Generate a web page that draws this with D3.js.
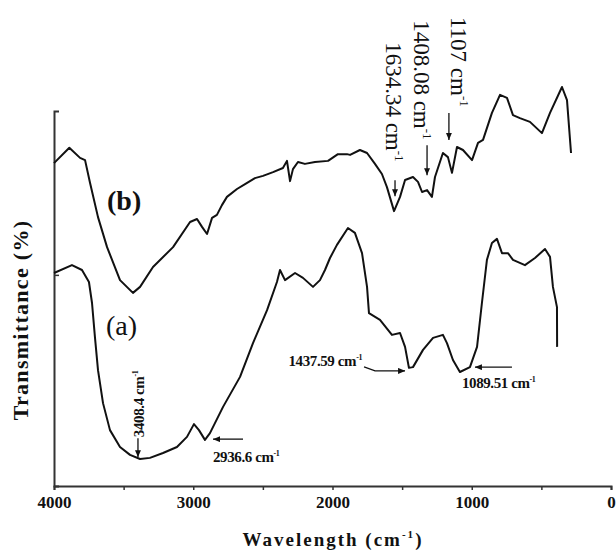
<!DOCTYPE html>
<html>
<head>
<meta charset="utf-8">
<script src="https://cdn.jsdelivr.net/npm/d3@7"></script>
<style>
  body { margin: 0; background: #fff; }
  svg { display: block; background: #fff; }
  text { font-family: "Liberation Serif", "Times New Roman", serif; fill: #111; }
</style>
</head>
<body>
<svg id="chart" width="616" height="554"></svg>
<script>
// spectrum (b) - wavenumber (cm-1) vs transmittance (arbitrary units)
var waveB = [4000, 3890, 3813, 3777, 3741, 3684, 3619, 3526, 3433, 3382, 3289, 3145, 3023, 2973,
             2937, 2901, 2865, 2830, 2794, 2758, 2686, 2628, 2557, 2499, 2427, 2356, 2327, 2305,
             2284, 2248, 2198, 2126, 2032, 1961, 1896, 1874, 1803, 1752, 1695, 1645, 1609, 1558,
             1515, 1479, 1422, 1386, 1357, 1321, 1286, 1264, 1207, 1171, 1142, 1106, 1063, 998,
             955, 919, 855, 797, 747, 704, 654, 582, 496, 438, 352, 316, 287];
var transB = [86.1, 90.2, 87.5, 86.9, 80.8, 71.7, 63.7, 54.9, 51.5, 53.1, 58.4, 63.7, 70.4, 71.2,
              69.1, 67.2, 71.5, 72.3, 74.9, 77.1, 79.2, 80.5, 82.1, 82.7, 83.7, 84.8, 86.7, 81.3,
              84.5, 86.4, 85.9, 86.4, 86.7, 88.5, 88.5, 88.3, 89.6, 88.8, 85.9, 83.2, 79.7, 73.3,
              77.1, 81.6, 82.4, 81.1, 78.4, 78.9, 77.1, 82.4, 88.8, 87.7, 83.5, 90.4, 89.6, 86.9,
              91.5, 92.3, 99.5, 104.3, 103.5, 98.9, 98.1, 97.1, 94.1, 99.5, 106.4, 102.9, 88.8];

// spectrum (a)
var waveA = [4000, 3871, 3799, 3749, 3727, 3706, 3684, 3648, 3598, 3526, 3454, 3382, 3311, 3217,
             3117, 3045, 2995, 2959, 2916, 2880, 2786, 2664, 2571, 2470, 2399, 2377, 2341, 2269,
             2212, 2140, 2090, 2054, 2018, 1968, 1889, 1839, 1788, 1752, 1738, 1659, 1573, 1515,
             1479, 1451, 1422, 1350, 1278, 1207, 1178, 1135, 1085, 1013, 962, 927, 891, 855, 819,
             783, 740, 704, 618, 546, 474, 438, 417, 388, 387];
var transA = [56.8, 58.9, 57.6, 54.4, 48.8, 39.7, 30.9, 22.1, 14.9, 10.4, 8.3, 7.2, 7.5, 8.8,
              10.4, 13.1, 16.5, 14.9, 12.3, 14.1, 21.1, 29.1, 38.1, 46.9, 54.4, 57.6, 54.9, 56.8,
              55.5, 53.1, 54.9, 57.6, 60.8, 64.3, 68.8, 67.5, 62.1, 53.1, 46.1, 44.3, 40.3, 40.8,
              37.1, 31.5, 31.7, 36.3, 39.5, 40.3, 38.1, 33.6, 30.4, 31.7, 37.1, 48.8, 60.3, 64.8,
              65.9, 62.1, 62.1, 60.3, 58.9, 60.8, 63.2, 61.1, 53.1, 47.7, 37.1];

var tickWaves = [4000, 3500, 3000, 2500, 2000, 1500, 1000, 500, 0];
var tickLabels = ["4000", "", "3000", "", "2000", "", "1000", "", "0"];

// marked peaks
var peakLabels = ["1634.34", "1408.08", "1107", "3408.4", "2936.6", "1437.59", "1089.51"];
var peakWaves  = [1551, 1321, 1164, 3397, 2858, 1479, 977];
var peakTrans  = [77.3, 82.9, 92.3, 7.7, 12.5, 30.7, 31.7];

var svg = d3.select("#chart");

var x = d3.scaleLinear().domain([4000, 0]).range([54, 611]);
var y = d3.scaleLinear().domain([0, 100]).range([486, 111]);

// arrow head
svg.append("defs").append("marker")
    .attr("id", "head")
    .attr("markerUnits", "userSpaceOnUse")
    .attr("markerWidth", 7).attr("markerHeight", 6)
    .attr("refX", 7).attr("refY", 3)
    .attr("orient", "auto")
  .append("path")
    .attr("d", "M0,0 L7,3 L0,6 Z")
    .attr("fill", "#111");

// axes
var xAxis = d3.axisBottom(x)
    .tickValues(tickWaves)
    .tickSize(4)
    .tickPadding(6)
    .tickFormat(function(d, i) { return tickLabels[i]; });

var gx = svg.append("g").attr("transform", "translate(0," + y(0) + ")").call(xAxis);
gx.select(".domain").attr("stroke", "#333").attr("stroke-width", 2);
gx.selectAll(".tick line").attr("stroke", "#333").attr("stroke-width", 1.5);
gx.selectAll(".tick text")
    .style("font-family", "'Liberation Serif', serif")
    .style("font-size", "17px")
    .style("font-weight", "bold")
    .attr("fill", "#111");

var gy = svg.append("g").attr("transform", "translate(" + x(4000) + ",0)")
    .call(d3.axisLeft(y).tickValues([56.3]).tickSize(-5).tickFormat(""));
gy.select(".domain").attr("stroke", "#333").attr("stroke-width", 2);
gy.selectAll(".tick line").attr("stroke", "#333").attr("stroke-width", 1.5);

// axis titles
var xt = svg.append("text")
    .attr("x", 333).attr("y", 546)
    .attr("text-anchor", "middle")
    .style("font-size", "19px").style("font-weight", "bold")
    .style("letter-spacing", "2px")
    .text("Wavelength (cm");
xt.append("tspan").attr("dy", -8).style("font-size", "11px").text("-1");
xt.append("tspan").attr("dy", 8).text(")");

svg.append("text")
    .attr("transform", "translate(28,320) rotate(-90)")
    .attr("text-anchor", "middle")
    .style("font-size", "22px").style("font-weight", "bold")
    .style("letter-spacing", "1.3px")
    .text("Transmittance (%)");

// spectra
var line = d3.line()
    .x(function(d) { return x(d[0]); })
    .y(function(d) { return y(d[1]); })
    .curve(d3.curveLinear);

svg.append("path")
    .datum(d3.zip(waveB, transB))
    .attr("d", line)
    .attr("fill", "none").attr("stroke", "#111").attr("stroke-width", 2)
    .attr("stroke-linejoin", "round");

svg.append("path")
    .datum(d3.zip(waveA, transA))
    .attr("d", line)
    .attr("fill", "none").attr("stroke", "#111").attr("stroke-width", 2)
    .attr("stroke-linejoin", "round");

// curve labels
svg.append("text").attr("x", 107).attr("y", 210)
    .style("font-size", "28px").style("font-weight", "bold").text("(b)");
svg.append("text").attr("x", 106).attr("y", 335)
    .style("font-size", "28px").text("(a)");

// peak annotations: arrow start (relative to tip), text position, rotation, style
var notes = [
  { from: [[0, -16]],            tx: -9,  ty: -154, rot: 90,  size: 23, bold: false },
  { from: [[0, -30]],            tx: -13, ty: -155, rot: 90,  size: 23, bold: false },
  { from: [[0, -27]],            tx: 2,   ty: -123, rot: 90,  size: 23, bold: false },
  { from: [[0, -19]],            tx: 6,   ty: -20,  rot: -90, size: 15, bold: true },
  { from: [[30, 0]],             tx: 0,   ty: 23,   rot: 0,   size: 15, bold: true },
  { from: [[-41, -4], [-30, 0]], tx: -43, ty: -5,   rot: 0,   size: 15, bold: true, end: true },
  { from: [[37, 0]],             tx: -13, ty: 21,   rot: 0,   size: 15, bold: true }
];

peakLabels.forEach(function(lab, i) {
  var n = notes[i];
  var px = x(peakWaves[i]), py = y(peakTrans[i]);
  var pts = n.from.map(function(p) { return [px + p[0], py + p[1]]; });
  pts.push([px, py]);
  svg.append("path")
      .attr("d", d3.line()(pts))
      .attr("fill", "none").attr("stroke", "#111").attr("stroke-width", 1.3)
      .attr("marker-end", "url(#head)");

  var t = svg.append("text")
      .attr("transform", "translate(" + (px + n.tx) + "," + (py + n.ty) + ") rotate(" + n.rot + ")")
      .attr("text-anchor", n.end ? "end" : "start")
      .style("font-size", n.size + "px")
      .style("font-weight", n.bold ? "bold" : "normal")
      .style("letter-spacing", n.bold ? "-0.4px" : "0px")
      .text(lab + " cm");
  t.append("tspan")
      .attr("dy", -n.size * 0.4)
      .style("font-size", Math.round(n.size * 0.55) + "px")
      .text("-1");
});
</script>
</body>
</html>
